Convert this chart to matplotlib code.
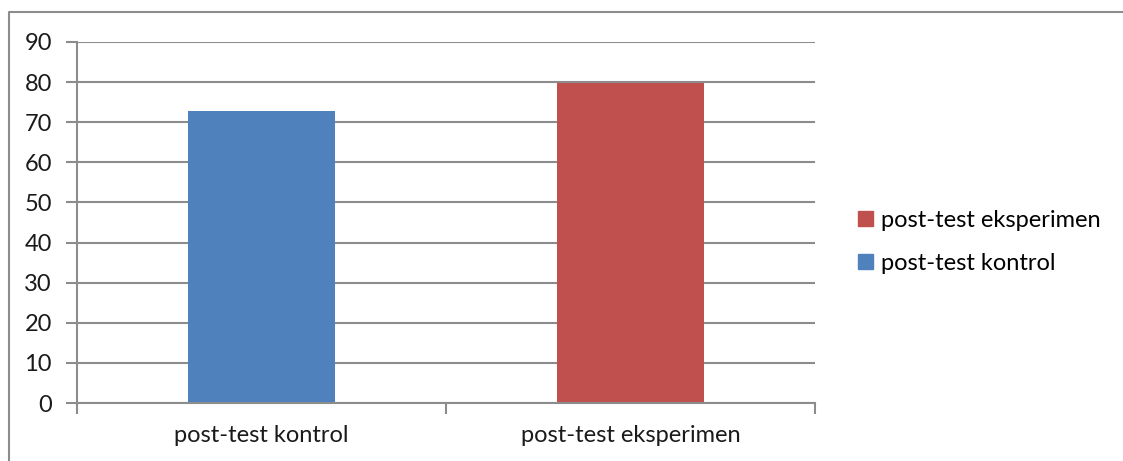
"""
post-test kontrol vs eksperimen bar chart
"""

import matplotlib
matplotlib.use('Agg')
import matplotlib.pyplot as plt
from matplotlib.patches import Patch
from matplotlib.lines import Line2D

categories = ['post-test kontrol', 'post-test eksperimen']
values = [72.7, 79.9]
colors = ['#4F81BD', '#C0504D']
yticks = [0, 10, 20, 30, 40, 50, 60, 70, 80, 90]

plt.rcParams['font.family'] = ['Lato', 'DejaVu Sans']

W, H = 1123, 461
fig = plt.figure(figsize=(W / 100, H / 100), dpi=100)
ax = fig.add_axes([77 / W, 1 - 403 / H, (815 - 77) / W, (403 - 42) / H])

grid_col = '#8c8c8c'
fs = 17

x = list(range(len(categories)))
ax.bar(x, values, width=0.4, color=colors, zorder=3)

ax.set_xlim(-0.5, len(categories) - 0.5)
ax.set_ylim(0, 90)
ax.set_yticks(yticks)
ax.set_yticklabels([str(v) for v in yticks], fontsize=fs, color='#1a1a1a')

# gridlines
for v in yticks:
    ax.axhline(v, color=grid_col, linewidth=1.5, zorder=1)

ax.set_xticks([i - 0.5 for i in range(len(categories) + 1)])
ax.set_xticklabels([])
ax.set_xticks(x, minor=True)
ax.set_xticklabels(categories, minor=True, fontsize=fs, color='#1a1a1a')
ax.tick_params(axis='x', which='major', length=8, width=1.5, color=grid_col, direction='out')
ax.tick_params(axis='x', which='minor', length=0, pad=16)
ax.tick_params(axis='y', length=8, width=1.5, color=grid_col, pad=10)

for side in ['top', 'right']:
    ax.spines[side].set_visible(False)
for side in ['left', 'bottom']:
    ax.spines[side].set_color(grid_col)
    ax.spines[side].set_linewidth(1.5)
    ax.spines[side].set_zorder(4)

# legend (reverse order like excel)
handles = [Patch(color=colors[1], label=categories[1]),
           Patch(color=colors[0], label=categories[0])]
fig.legend(handles=handles, loc='center left', bbox_to_anchor=(849 / W, 1 - 242 / H),
           frameon=False, fontsize=fs, handlelength=0.6, handleheight=0.6,
           handletextpad=0.35, labelspacing=0.95, borderaxespad=0)

# outer chart border (left and top only, the rest is cut off)
bx, by = 8.5 / W, 1 - 12.5 / H
fig.add_artist(Line2D([bx, bx, 1.0], [0.0, by, by], transform=fig.transFigure,
                      color=grid_col, linewidth=1.5))

fig.savefig('out.png', dpi=100, facecolor='white')
